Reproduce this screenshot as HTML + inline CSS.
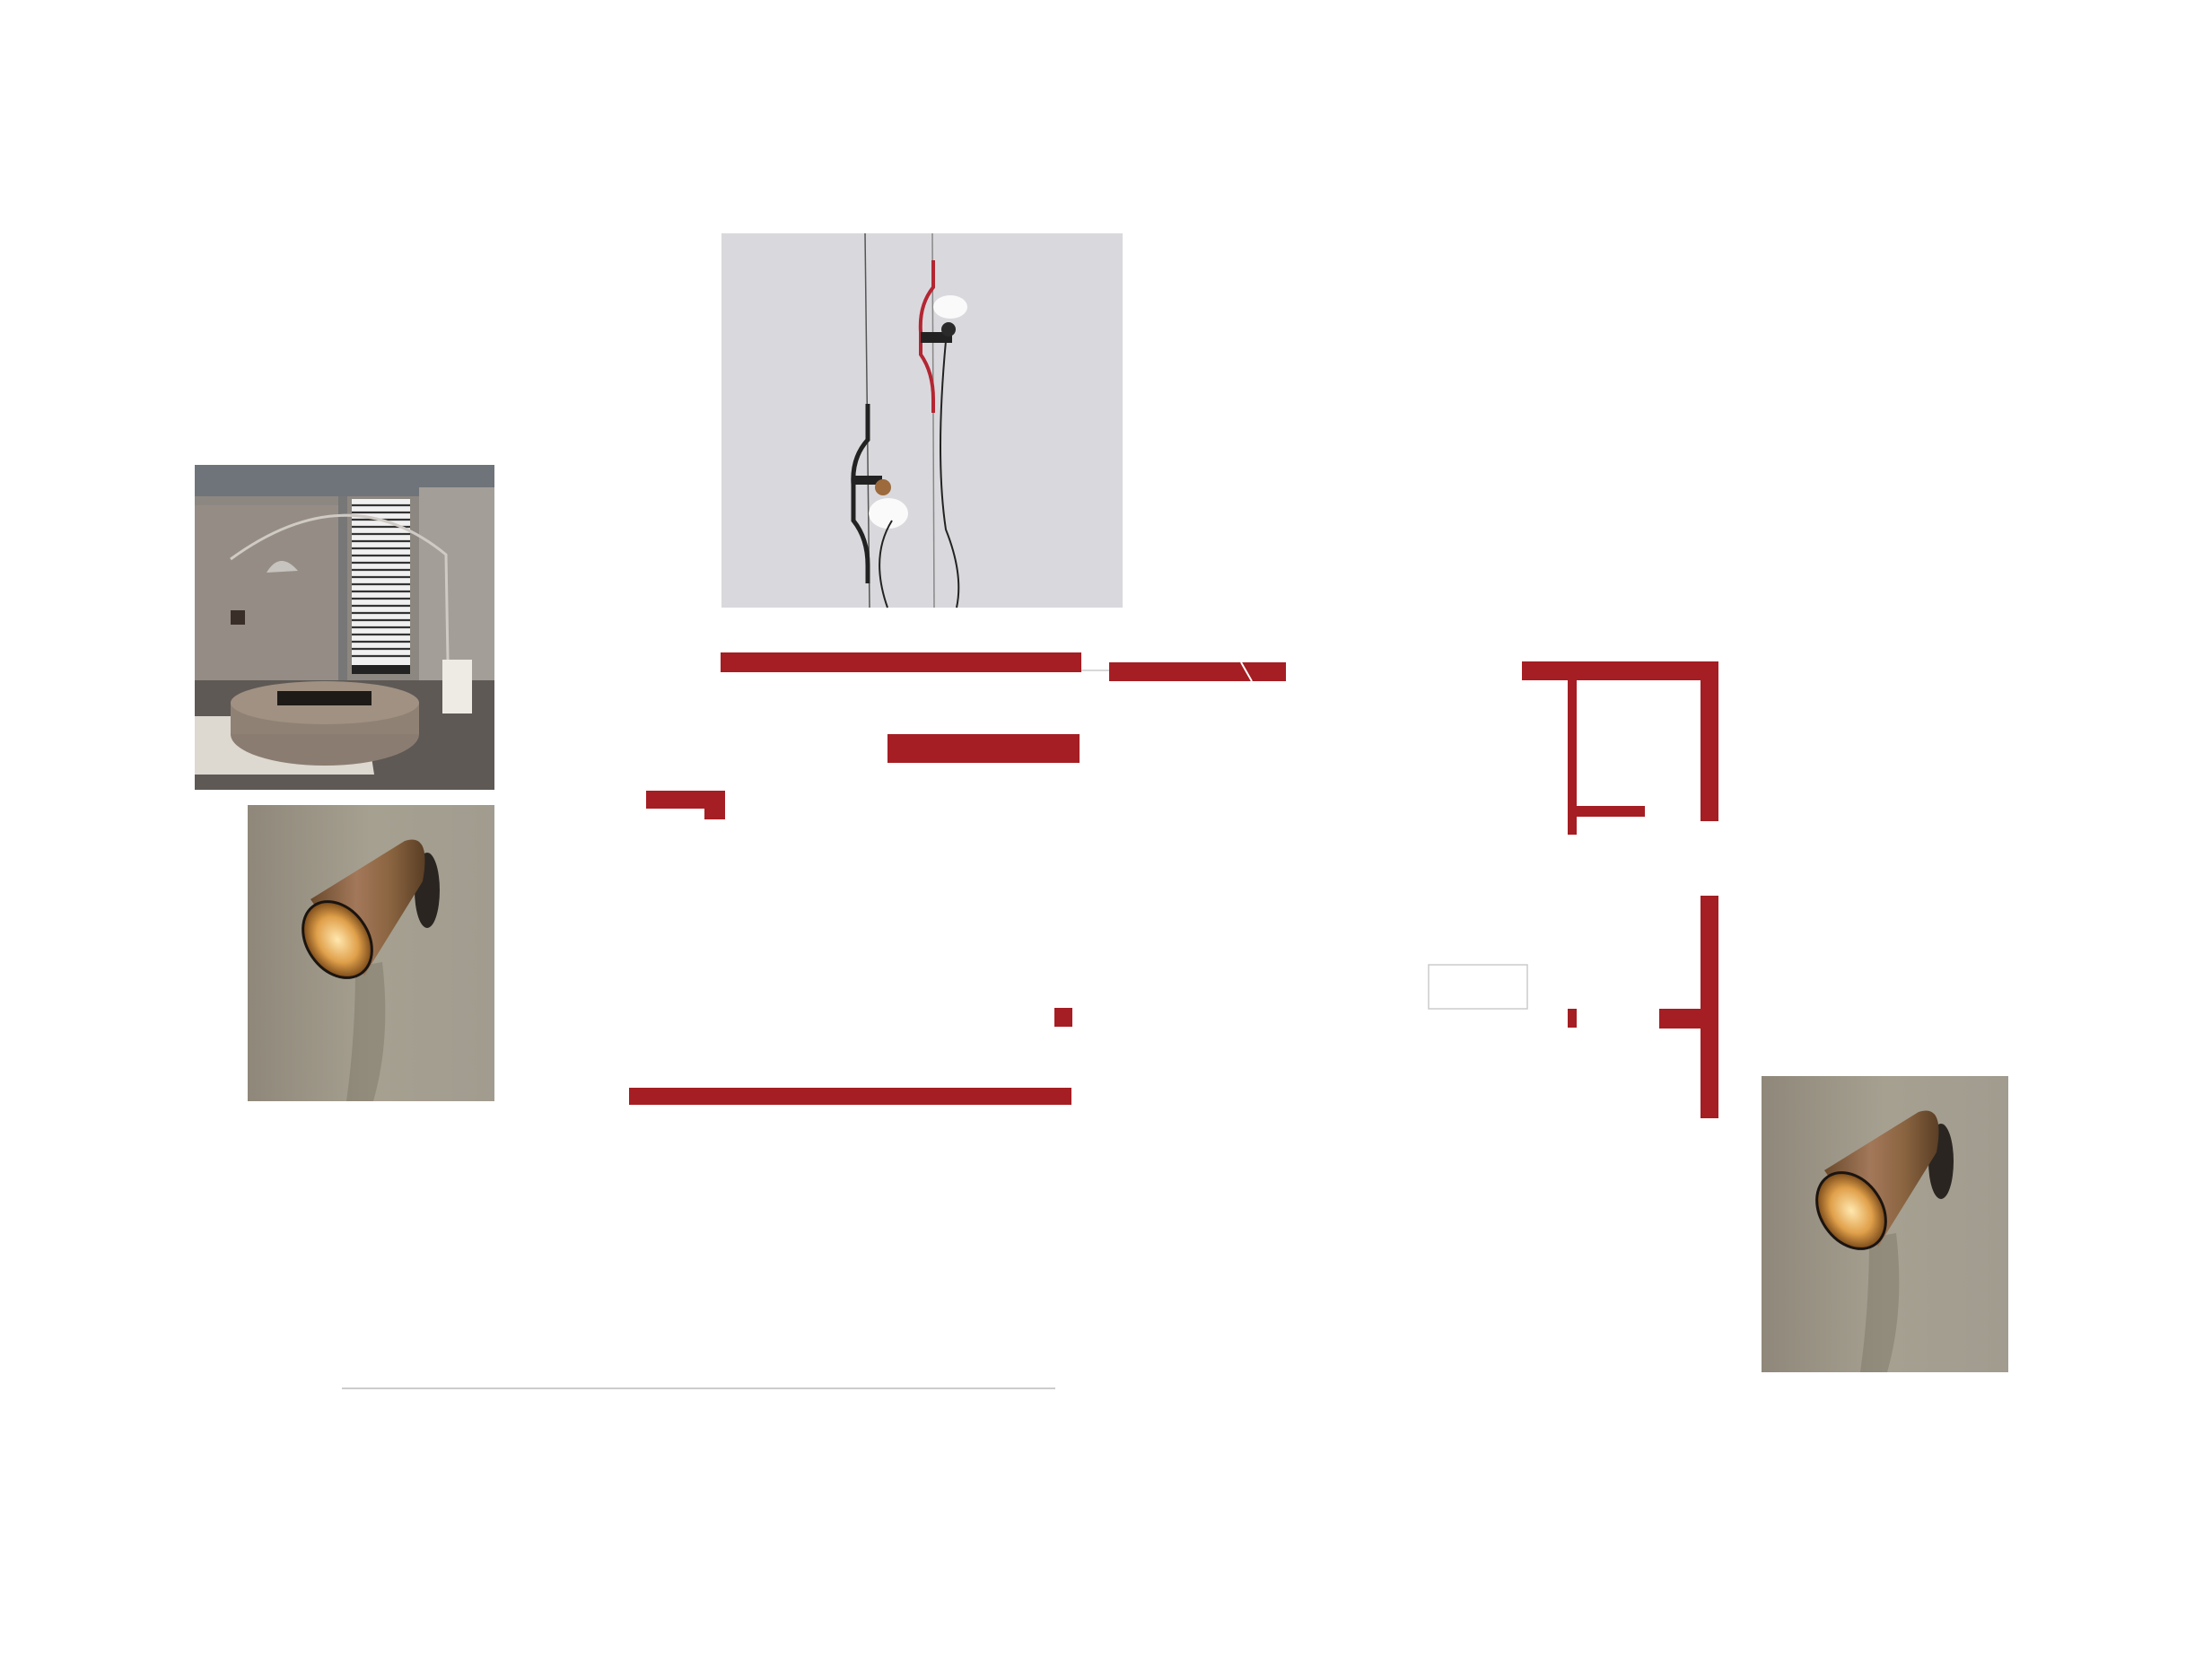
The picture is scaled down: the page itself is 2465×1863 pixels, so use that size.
<!DOCTYPE html>
<html><head><meta charset="utf-8"><style>
html,body{margin:0;padding:0;background:#fff;}
svg{display:block}
</style></head><body>
<svg width="2465" height="1863" viewBox="0 0 2465 1863" xmlns="http://www.w3.org/2000/svg">
<rect width="2465" height="1863" fill="#fff"/>
<defs>
<linearGradient id="wall" x1="0" y1="0" x2="1" y2="0"><stop offset="0" stop-color="#8f887a"/><stop offset="0.5" stop-color="#a6a091"/><stop offset="1" stop-color="#a19c8f"/></linearGradient>
<linearGradient id="bronze" x1="0" y1="0" x2="1" y2="0"><stop offset="0" stop-color="#6b4a2c"/><stop offset="0.4" stop-color="#a3785a"/><stop offset="0.7" stop-color="#8a6440"/><stop offset="1" stop-color="#5a3e25"/></linearGradient>
<radialGradient id="glow"><stop offset="0" stop-color="#ffe8b0"/><stop offset="0.6" stop-color="#e0a04a"/><stop offset="1" stop-color="#7a4a1a"/></radialGradient>
<g id="walllamp">
<rect x="0" y="0" width="275" height="330" fill="url(#wall)"/>
<path d="M150 175 Q160 260 140 330 L110 330 Q120 260 120 180Z" fill="#6e6656" opacity="0.35"/>
<ellipse cx="200" cy="95" rx="14" ry="42" fill="#2a2520"/>
<path d="M70 105 L175 40 Q205 30 195 85 L130 190 Z" fill="url(#bronze)"/>
<ellipse cx="100" cy="150" rx="34" ry="46" transform="rotate(-35 100 150)" fill="url(#glow)" stroke="#1a1410" stroke-width="3"/>
</g>
</defs>

<!-- Arco photo -->
<g transform="translate(217,518)">
<rect width="334" height="362" fill="#8d8781"/>
<rect width="334" height="35" fill="#6f747a"/>
<rect x="0" y="45" width="160" height="200" fill="#958d85"/>
<rect x="160" y="35" width="10" height="220" fill="#777"/>
<rect x="175" y="38" width="65" height="185" fill="#f0f0f0"/>
<g stroke="#333" stroke-width="2.2">
<line x1="175" y1="45" x2="240" y2="45"/><line x1="175" y1="53" x2="240" y2="53"/><line x1="175" y1="61" x2="240" y2="61"/><line x1="175" y1="69" x2="240" y2="69"/><line x1="175" y1="77" x2="240" y2="77"/><line x1="175" y1="85" x2="240" y2="85"/><line x1="175" y1="93" x2="240" y2="93"/><line x1="175" y1="101" x2="240" y2="101"/><line x1="175" y1="109" x2="240" y2="109"/><line x1="175" y1="117" x2="240" y2="117"/><line x1="175" y1="125" x2="240" y2="125"/><line x1="175" y1="133" x2="240" y2="133"/><line x1="175" y1="141" x2="240" y2="141"/><line x1="175" y1="149" x2="240" y2="149"/><line x1="175" y1="157" x2="240" y2="157"/><line x1="175" y1="165" x2="240" y2="165"/><line x1="175" y1="173" x2="240" y2="173"/><line x1="175" y1="181" x2="240" y2="181"/><line x1="175" y1="189" x2="240" y2="189"/><line x1="175" y1="197" x2="240" y2="197"/><line x1="175" y1="205" x2="240" y2="205"/><line x1="175" y1="213" x2="240" y2="213"/>
</g>
<rect x="175" y="223" width="65" height="10" fill="#222"/>
<rect x="250" y="25" width="84" height="250" fill="#a39e98"/>
<rect x="0" y="240" width="334" height="122" fill="#5e5955"/>
<path d="M0 280 L190 280 L200 345 L0 345Z" fill="#ddd8d0"/>
<ellipse cx="145" cy="300" rx="105" ry="35" fill="#8a7c70"/>
<rect x="40" y="265" width="210" height="35" fill="#8f8275"/>
<ellipse cx="145" cy="265" rx="105" ry="24" fill="#a09183"/>
<rect x="92" y="252" width="105" height="16" fill="#1e1a17"/>
<rect x="276" y="217" width="33" height="60" fill="#eeeae4"/>
<path d="M40 105 Q170 10 280 100 L282 217" fill="none" stroke="#cfcac4" stroke-width="3"/>
<path d="M80 120 Q95 95 115 118Z" fill="#c7c3bf"/>
<rect x="40" y="162" width="16" height="16" fill="#3a2f28"/>
</g>

<!-- Wall lamp 1 -->
<g transform="translate(276,897)"><use href="#walllamp"/></g>

<!-- Parentesi photo -->
<g transform="translate(804,260)">
<rect width="447" height="417" fill="#d9d9dd"/>
<line x1="160" y1="0" x2="165" y2="417" stroke="#555" stroke-width="1.5"/>
<line x1="235" y1="0" x2="237" y2="417" stroke="#888" stroke-width="1.5"/>
<path d="M236 30 L236 60 Q220 80 222 110 L222 135 Q236 155 236 185 L236 200" fill="none" stroke="#b32632" stroke-width="4"/>
<path d="M163 190 L163 230 Q145 250 147 280 L147 320 Q163 340 163 370 L163 390" fill="none" stroke="#222" stroke-width="5"/>
<ellipse cx="255" cy="82" rx="19" ry="13" fill="#fafafa"/>
<rect x="222" y="110" width="35" height="12" fill="#222"/>
<circle cx="253" cy="107" r="8" fill="#2a2a2a"/>
<ellipse cx="186" cy="312" rx="22" ry="17" fill="#fafafa"/>
<rect x="147" y="270" width="32" height="10" fill="#222"/>
<circle cx="180" cy="283" r="9" fill="#9c6a3d"/>
<path d="M190 320 Q165 360 185 417" fill="none" stroke="#222" stroke-width="2"/>
<path d="M250 120 Q238 250 250 330 Q270 380 262 417" fill="none" stroke="#222" stroke-width="2"/>
</g>

<!-- Red shapes left -->
<g fill="#a51e23">
<rect x="803" y="727" width="402" height="22"/>
<rect x="1236" y="738" width="197" height="21"/>
<rect x="989" y="818" width="214" height="32"/>
<rect x="720" y="881" width="88" height="20"/>
<rect x="785" y="881" width="23" height="32"/>
<rect x="1175" y="1123" width="20" height="21"/>
<rect x="701" y="1212" width="493" height="19"/>
</g>
<line x1="1205" y1="747" x2="1236" y2="747" stroke="#ccc" stroke-width="1.5"/>
<line x1="1383" y1="738" x2="1395" y2="759" stroke="#fff" stroke-width="2"/>

<!-- Frame right -->
<g fill="#a51e23">
<rect x="1696" y="737" width="219" height="21"/>
<rect x="1895" y="737" width="20" height="178"/>
<rect x="1747" y="756" width="10" height="174"/>
<rect x="1757" y="898" width="76" height="12"/>
<rect x="1895" y="998" width="20" height="248"/>
<rect x="1849" y="1124" width="46" height="22"/>
<rect x="1747" y="1124" width="10" height="21"/>
</g>
<rect x="1592" y="1075" width="110" height="49" fill="#fff" stroke="#ccc" stroke-width="1.5"/>

<!-- Wall lamp 2 -->
<g transform="translate(1963,1199)"><use href="#walllamp"/></g>

<!-- bottom gray line -->
<line x1="381" y1="1547" x2="1176" y2="1547" stroke="#ccc" stroke-width="2"/>
</svg>
</body></html>
